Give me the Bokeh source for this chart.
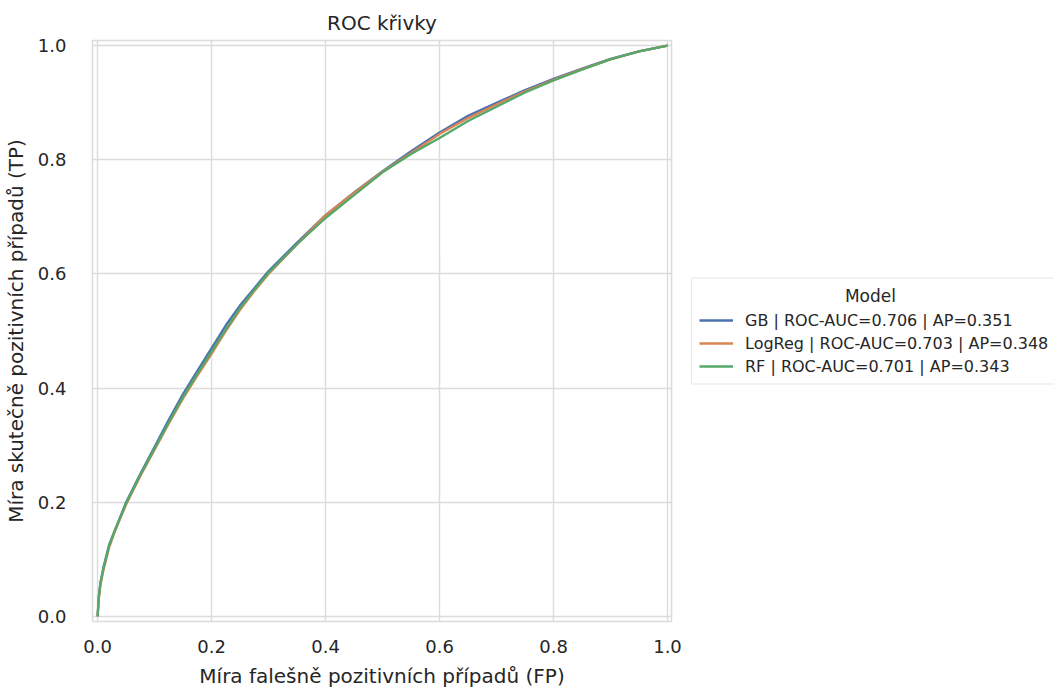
from bokeh.plotting import figure
from bokeh.models import Legend, LegendItem, Range1d, FixedTicker, NumeralTickFormatter
from bokeh.embed import file_html
from bokeh.resources import INLINE

# ---- data ----
fpr = [0, 0.002, 0.005, 0.01, 0.02, 0.03, 0.05, 0.075, 0.1, 0.125, 0.15, 0.175,
       0.2, 0.225, 0.25, 0.275, 0.3, 0.35, 0.4, 0.45, 0.5, 0.55, 0.6, 0.65,
       0.7, 0.75, 0.8, 0.85, 0.9, 0.95, 1.0]
tpr_gb = [0, 0.035, 0.06, 0.085, 0.125, 0.15, 0.2, 0.25, 0.297, 0.345, 0.39, 0.43,
          0.47, 0.51, 0.545, 0.575, 0.605, 0.655, 0.703, 0.743, 0.78, 0.815, 0.848, 0.877,
          0.9, 0.922, 0.942, 0.96, 0.977, 0.99, 1.0]
tpr_lr = [0, 0.03, 0.055, 0.08, 0.12, 0.148, 0.196, 0.246, 0.292, 0.338, 0.382, 0.422,
          0.46, 0.5, 0.537, 0.57, 0.6, 0.652, 0.703, 0.742, 0.779, 0.812, 0.845, 0.873,
          0.897, 0.92, 0.94, 0.959, 0.976, 0.99, 1.0]
tpr_rf = [0, 0.033, 0.058, 0.083, 0.123, 0.15, 0.198, 0.248, 0.294, 0.34, 0.385, 0.425,
          0.464, 0.503, 0.54, 0.572, 0.602, 0.652, 0.698, 0.738, 0.778, 0.81, 0.838, 0.868,
          0.893, 0.918, 0.939, 0.958, 0.976, 0.99, 1.0]

models = ["GB", "LogReg", "RF"]
roc_auc = [0.706, 0.703, 0.701]
ap = [0.351, 0.348, 0.343]
colors = ["#4c72b0", "#dd8452", "#55a868"]
ticks = [0.0, 0.2, 0.4, 0.6, 0.8, 1.0]

FONT = "DejaVu Sans"
TXT = "#262626"
GRID = "#dcdcdc"

p = figure(frame_width=579, frame_height=581, output_backend="svg", toolbar_location=None,
           title="ROC křivky",
           x_range=Range1d(-0.009, 1.007), y_range=Range1d(-0.009, 1.009),
           min_border_left=92, min_border_right=10, min_border_top=40,
           min_border_bottom=66)
p.background_fill_color = "white"
p.border_fill_color = "white"
p.outline_line_color = GRID
p.outline_line_width = 1.5

p.title.align = "center"
p.title.text_font = FONT
p.title.text_font_size = "20px"
p.title.text_font_style = "normal"
p.title.text_color = TXT
p.title.standoff = 11

for ax in (p.xaxis[0], p.yaxis[0]):
    ax.ticker = FixedTicker(ticks=ticks)
    ax.formatter = NumeralTickFormatter(format="0.0")
    ax.axis_line_color = None
    ax.major_tick_line_color = None
    ax.minor_tick_line_color = None
    ax.major_label_text_font = FONT
    ax.major_label_text_font_size = "18px"
    ax.major_label_text_color = TXT
    ax.axis_label_text_font = FONT
    ax.axis_label_text_font_size = "20px"
    ax.axis_label_text_font_style = "normal"
    ax.axis_label_text_color = TXT
p.xaxis.major_label_standoff = 12
p.yaxis.major_label_standoff = 20
p.xaxis.axis_label = "Míra falešně pozitivních případů (FP)"
p.yaxis.axis_label = "Míra skutečně pozitivních případů (TP)"
p.xaxis.axis_label_standoff = 8
p.yaxis.axis_label_standoff = 7

for g in (p.xgrid[0], p.ygrid[0]):
    g.ticker = FixedTicker(ticks=ticks)
    g.grid_line_color = GRID
    g.grid_line_width = 1.5

items = []
for name, tpr, c, auc, a in zip(models, [tpr_gb, tpr_lr, tpr_rf], colors, roc_auc, ap):
    r = p.line(fpr, tpr, line_color=c, line_width=2.3)
    items.append(LegendItem(label=f"{name} | ROC-AUC={auc:.3f} | AP={a:.3f}", renderers=[r]))

legend = Legend(items=items, location="center_left", title="\u00a0" * 27 + "Model")
legend.title_text_font = FONT
legend.title_text_font_size = "17px"
legend.title_text_font_style = "normal"
legend.title_text_color = TXT
legend.title_standoff = 4
legend.label_text_font = FONT
legend.label_text_font_size = "16px"
legend.label_text_color = TXT
legend.label_height = 21
legend.glyph_height = 21
legend.glyph_width = 34
legend.label_standoff = 12
legend.spacing = 2
legend.padding = 7
legend.margin = 20
legend.border_line_color = "#d0d0d0"
legend.border_line_width = 1
legend.background_fill_alpha = 1.0
p.add_layout(legend, "right")

open("out.html", "w").write(file_html(p, INLINE))
